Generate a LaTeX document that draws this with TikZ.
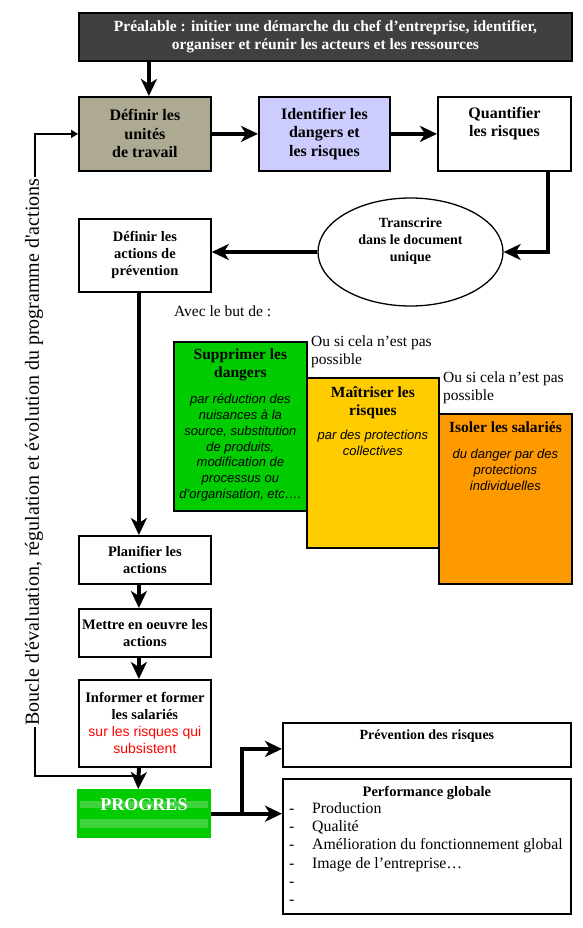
\documentclass[tikz,border=0pt]{standalone}
\usepackage{fontspec}
\setmainfont{Liberation Serif}
\setsansfont{Liberation Sans}
\newfontfamily\loopfont[Ligatures=TeXOff]{Liberation Serif}
\usetikzlibrary{arrows.meta,shapes.geometric,calc}
\definecolor{topgray}{HTML}{404040}
\definecolor{khaki}{HTML}{ADA993}
\definecolor{lilac}{HTML}{CCCCFF}
\definecolor{vert}{HTML}{00CC00}
\definecolor{vertclair}{HTML}{3FD33F}
\definecolor{jaune}{HTML}{FFCC00}
\definecolor{orangefonce}{HTML}{FF9900}
\newcommand\fsz[2]{\fontsize{#1}{#2}\selectfont}
\begin{document}
\begin{tikzpicture}[x=1pt,y=-1pt,
  box/.style={draw, line width=1.8pt, inner sep=1pt, align=center, anchor=north west},
  bigtxt/.style={font=\bfseries\fsz{16}{18.5}},
  midtxt/.style={font=\bfseries\fsz{14.5}{17}},
  toptxt/.style={align=center, inner sep=0pt, anchor=north},
  ttl/.style={toptxt, font=\bfseries\fsz{15.5}{18}},
  bodytxt/.style={toptxt, font=\sffamily\itshape\fsz{13}{15.8}},
  flow/.style={line width=4pt, -{Stealth[length=17pt,width=16pt,inset=5pt]}},
  loopline/.style={line width=2.5pt, -{Triangle[length=7pt,width=8pt]}},
  note/.style={inner sep=0pt, align=left, font=\fsz{15.5}{17.5}}
]
\useasboundingbox (0,0) rectangle (583,928);

% top box
\node[box, fill=topgray, text=white, minimum width=493pt, minimum height=48pt,
      font=\bfseries\fsz{15.5}{18}] (pre) at (78,12)
  {Préalable : initier une démarche du chef d’entreprise, identifier,\\organiser et réunir les acteurs et les ressources};

% row 2
\node[box, bigtxt, fill=khaki, minimum width=132pt, minimum height=74pt] (b1) at (78,96)
  {Définir les\\unités\\de travail};
\node[box, bigtxt, fill=lilac, minimum width=131pt, minimum height=74pt] (b2) at (258,96)
  {Identifier les\\dangers et\\les risques};
\node[box, minimum width=133pt, minimum height=74pt] (b3) at (437,96) {};
\node[toptxt, font=\bfseries\fsz{16}{18.5}] (b3t) at ([yshift=-11pt]b3.north) {Quantifier\\les risques};

% ellipse
\node[draw, ellipse, line width=1.3pt, minimum width=185pt, minimum height=108pt] (el) at (410.5,252) {};
\node[align=center, inner sep=0pt, font=\bfseries\fsz{14}{17}] (elt) at (410.5,241)
  {Transcrire\\dans le document\\unique};

% define actions
\node[box, midtxt, minimum width=132pt, minimum height=73pt] (b4) at (78,218)
  {Définir les\\actions de\\prévention};

% notes
\node[anchor=north west, inner sep=0pt, font=\fsz{15.5}{17}] (avec) at (174,306) {Avec le but de :};
\node[note, anchor=north west] (ou1) at (311,336) {Ou si cela n’est pas\\possible};
\node[note, anchor=north west] (ou2) at (443,372) {Ou si cela n’est pas\\possible};

% coloured boxes
\node[box, fill=vert, minimum width=133pt, minimum height=169pt] (gr) at (173,341) {};
\node[ttl] (grt) at ([yshift=-8pt]gr.north) {Supprimer les\\dangers};
\node[bodytxt] (grb) at ([yshift=-53pt]gr.north)
  {par réduction des\\nuisances à la\\source, substitution\\de produits,\\modification de\\processus ou\\d’organisation, etc….};

\node[box, fill=jaune, minimum width=132pt, minimum height=170pt] (ye) at (306,377) {};
\node[ttl] (yet) at ([yshift=-9pt]ye.north) {Maîtriser les\\risques};
\node[bodytxt] (yeb) at ([yshift=-53pt]ye.north) {par des protections\\collectives};

\node[box, fill=orangefonce, minimum width=133pt, minimum height=170pt] (or) at (438,413) {};
\node[ttl] (ort) at ([yshift=-9pt]or.north) {Isoler les salariés};
\node[bodytxt] (orb) at ([yshift=-36pt]or.north) {du danger par des\\protections\\individuelles};

% lower column
\node[box, midtxt, minimum width=132pt, minimum height=48pt] (b5) at (78,535)
  {Planifier les\\actions};
\node[box, midtxt, minimum width=132pt, minimum height=48pt] (b6) at (78,608)
  {Mettre en oeuvre les\\actions};
\node[box, midtxt, minimum width=132pt, minimum height=87pt] (b7) at (78,679)
  {Informer et former\\les salariés\\{\sffamily\mdseries\color{red}\fsz{14}{17}sur les risques qui}\\{\sffamily\mdseries\color{red}\fsz{14}{17}subsistent}};

% PROGRES
\node[anchor=north west, fill=vert, minimum width=134pt, minimum height=49pt, inner sep=0pt] (prog) at (77,789) {};
\fill[vertclair] (80,801) rectangle (208,808);
\fill[vertclair] (80,819) rectangle (208,828);
\node[text=white, inner sep=0pt, font=\bfseries\fsz{18}{20}] (progt) at (144,805) {PROGRES};

% results
\node[box, minimum width=288pt, minimum height=44pt] (prev) at (282,722) {};
\node[toptxt, font=\bfseries\fsz{14}{17}] (prevt) at ([yshift=-8pt]prev.north) {Prévention des risques};
\node[box, minimum width=288pt, minimum height=135pt] (perf) at (282,778) {};
\node[toptxt, font=\bfseries\fsz{14.5}{17}] (perft) at ([yshift=-8pt]perf.north) {Performance globale};
\node[anchor=north west, inner sep=0pt, align=left, font=\fsz{15.8}{18.3}] (perfl) at (289,802)
  {\makebox[23pt][l]{-}Production\\
   \makebox[23pt][l]{-}Qualité\\
   \makebox[23pt][l]{-}Amélioration du fonctionnement global\\
   \makebox[23pt][l]{-}Image de l’entreprise…\\
   \makebox[23pt][l]{-}\\
   \makebox[23pt][l]{-}};

% loop
\coordinate (lc) at (35,776);
\coordinate (jn) at (138,776);
\draw[loopline] (jn) -- (lc) |- (b1.west);
\node[fill=white, rotate=90, inner sep=1pt, font=\loopfont\fsz{20}{24}] (looptxt) at (34,452)
  {Boucle d'évaluation, régulation et évolution du programme d'actions};

% connectors
\draw[flow] ([xshift=4pt]b1.north |- pre.south) -- ([xshift=4pt]b1.north);
\draw[flow] (b1.east) -- (b2.west);
\draw[flow] (b2.east) -- (b3.west);
\draw[flow] ([xshift=43.5pt]b3.south) |- (el.east);
\draw[flow] (el.west) -- (el.west -| b4.east);
\draw[flow] ([xshift=-6pt]b4.south) -- ([xshift=-6pt]b5.north);
\draw[flow] ([xshift=-6pt]b5.south) -- ([xshift=-6pt]b6.north);
\draw[flow] ([xshift=-6pt]b6.south) -- ([xshift=-6pt]b7.north);
\draw[flow] ([xshift=-6pt]b7.south) -- ([xshift=-6pt]prog.north);
\draw[flow] (prog.east) -- (prog.east -| perf.west);
\draw[flow] ([xshift=31pt]prog.east) |- ([yshift=-4pt]prev.west);
\end{tikzpicture}
\end{document}
